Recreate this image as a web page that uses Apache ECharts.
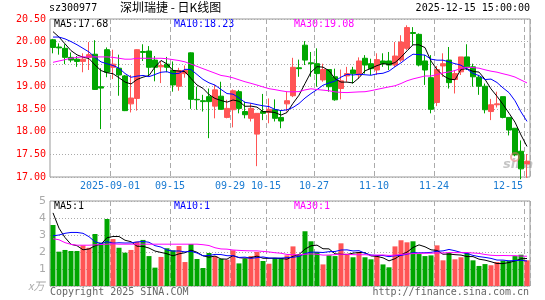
<!DOCTYPE html>
<html>
<head>
<meta charset="utf-8">
<script src="https://cdn.jsdelivr.net/npm/echarts@6/dist/echarts.min.js"></script>
<style>
  html, body { margin: 0; padding: 0; background: #fff; }
</style>
</head>
<body>
<div id="main" style="width: 545px; height: 300px;"></div>
<script>
// trading days shown (2025-08-18 .. 2025-12-15)
const dates = [
  '2025-08-18','2025-08-19','2025-08-20','2025-08-21','2025-08-22','2025-08-25','2025-08-26','2025-08-27','2025-08-28','2025-08-29',
  '2025-09-01','2025-09-02','2025-09-03','2025-09-04','2025-09-05','2025-09-08','2025-09-09','2025-09-10','2025-09-11','2025-09-12',
  '2025-09-15','2025-09-16','2025-09-17','2025-09-18','2025-09-19','2025-09-22','2025-09-23','2025-09-24','2025-09-25','2025-09-26',
  '2025-09-29','2025-09-30','2025-10-09','2025-10-10','2025-10-13','2025-10-14','2025-10-15','2025-10-16','2025-10-17','2025-10-20',
  '2025-10-21','2025-10-22','2025-10-23','2025-10-24','2025-10-27','2025-10-28','2025-10-29','2025-10-30','2025-10-31','2025-11-03',
  '2025-11-04','2025-11-05','2025-11-06','2025-11-07','2025-11-10','2025-11-11','2025-11-12','2025-11-13','2025-11-14','2025-11-17',
  '2025-11-18','2025-11-19','2025-11-20','2025-11-21','2025-11-24','2025-11-25','2025-11-26','2025-11-27','2025-11-28','2025-12-01',
  '2025-12-02','2025-12-03','2025-12-04','2025-12-05','2025-12-08','2025-12-09','2025-12-10','2025-12-11','2025-12-12','2025-12-15'
]
const tickDates = ['2025-09-01', '2025-09-15', '2025-09-29', '2025-10-15', '2025-10-27', '2025-11-10', '2025-11-24', '2025-12-15']

const opens = [
  20.04, 19.88, 19.85, 19.65, 19.61, 19.56, 19.65, 19.72, 19.00, 19.82,
  19.43, 19.41, 19.24, 18.62, 18.74, 19.78, 19.79, 19.59, 19.44, 19.50,
  19.36, 19.01, 19.29, 19.75, 18.72, 18.69, 18.78, 18.57, 18.79, 18.32,
  18.49, 18.89, 18.45, 18.30, 17.95, 18.45, 18.43, 18.49, 18.32, 18.62,
  18.80, 19.42, 19.92, 19.53, 19.51, 19.15, 19.38, 19.22, 18.96, 19.24,
  19.37, 19.26, 19.63, 19.51, 19.37, 19.57, 19.57, 19.48, 19.59, 19.85,
  20.20, 20.16, 19.57, 19.20, 18.65, 19.46, 19.59, 19.16, 19.33, 19.66,
  19.44, 19.21, 19.01, 18.45, 18.60, 18.78, 18.32, 18.08, 17.57, 17.29
]
const closes = [
  19.87, 19.86, 19.65, 19.59, 19.56, 19.61, 19.71, 18.94, 18.97, 19.32,
  19.50, 19.26, 18.47, 18.75, 19.82, 19.76, 19.43, 19.43, 19.47, 19.43,
  19.04, 19.36, 19.36, 18.72, 18.71, 18.67, 18.67, 18.93, 18.50, 18.52,
  18.91, 18.52, 18.38, 18.52, 18.41, 18.41, 18.50, 18.30, 18.24, 18.69,
  19.43, 19.40, 19.59, 19.51, 19.29, 19.38, 19.00, 18.71, 19.13, 19.29,
  19.29, 19.57, 19.48, 19.40, 19.60, 19.51, 19.48, 19.68, 19.99, 20.31,
  20.18, 19.48, 19.37, 18.50, 19.38, 19.51, 19.09, 19.29, 19.66, 19.44,
  19.22, 19.01, 18.49, 18.60, 18.62, 18.32, 18.04, 17.49, 17.18, 17.35
]
const lows = [
  19.74, 19.71, 19.50, 19.54, 19.44, 19.32, 19.37, 18.93, 18.06, 19.21,
  19.17, 18.80, 18.46, 18.43, 18.47, 19.57, 19.24, 19.12, 19.08, 19.32,
  18.89, 18.91, 19.20, 18.51, 18.49, 18.45, 17.86, 18.30, 18.49, 18.30,
  18.10, 18.41, 18.30, 18.23, 17.24, 18.26, 18.19, 18.23, 18.08, 18.45,
  18.77, 19.22, 19.48, 19.22, 19.00, 19.11, 18.89, 18.69, 18.72, 19.11,
  19.07, 19.18, 19.29, 19.26, 19.26, 19.44, 19.37, 19.44, 19.55, 19.81,
  19.92, 19.45, 19.04, 18.41, 18.57, 19.22, 18.96, 18.85, 19.26, 19.37,
  19.00, 18.82, 18.41, 18.26, 18.54, 18.30, 17.92, 17.46, 16.95, 16.98
]
const highs = [
  20.06, 19.96, 19.94, 19.76, 19.68, 19.74, 19.99, 20.03, 19.41, 19.87,
  19.82, 19.71, 19.26, 19.26, 19.83, 19.94, 19.90, 19.68, 19.57, 19.66,
  19.56, 19.42, 19.47, 19.76, 19.00, 18.82, 18.96, 19.04, 19.11, 18.71,
  18.94, 18.93, 18.67, 18.63, 18.41, 18.84, 18.74, 18.72, 18.47, 18.89,
  19.64, 19.60, 20.01, 19.77, 19.85, 19.51, 19.38, 19.40, 19.38, 19.44,
  19.44, 19.65, 19.70, 19.62, 19.74, 19.74, 19.77, 19.99, 20.14, 20.36,
  20.32, 20.18, 19.70, 19.70, 19.46, 19.74, 19.88, 19.37, 19.66, 19.94,
  19.51, 19.26, 19.07, 18.73, 18.89, 18.78, 18.32, 18.08, 17.81, 17.51
]
// volume, 万手
const volumes = [
  3.59, 2.02, 2.12, 2.06, 2.06, 2.39, 2.25, 3.06, 2.55, 3.94,
  2.76, 2.25, 1.96, 2.12, 2.61, 2.71, 1.76, 1.08, 1.71, 2.22,
  2.10, 2.35, 1.41, 2.47, 1.59, 1.06, 1.94, 1.75, 1.60, 1.55,
  2.10, 1.33, 1.60, 1.76, 2.00, 1.47, 1.31, 1.65, 1.65, 1.80,
  2.33, 1.84, 3.22, 2.63, 2.00, 1.27, 1.80, 1.76, 2.51, 1.90,
  1.69, 2.00, 1.69, 1.57, 1.76, 1.27, 1.10, 2.33, 2.69, 2.57,
  2.63, 1.88, 1.76, 1.80, 2.39, 1.51, 1.94, 1.57, 1.69, 1.94,
  1.51, 1.18, 1.29, 1.22, 1.41, 1.49, 1.49, 1.76, 1.84, 1.51
]
// moving-average values before enough bars exist in the window
const ma5Head = [20.22, 20.10, 19.95, 19.80]
const ma10Head = [20.10, 20.10, 20.06, 20.00, 19.93, 19.85, 19.77, 19.65, 19.55]
const ma30Head = [
  19.54, 19.57, 19.60, 19.63, 19.65, 19.66, 19.66, 19.66, 19.66, 19.66,
  19.65, 19.63, 19.61, 19.61, 19.63, 19.63, 19.63, 19.63, 19.63, 19.62,
  19.60, 19.58, 19.55, 19.50, 19.45, 19.40, 19.35, 19.30, 19.25
]
const volMa5Head = [4.3, 3.4, 2.85, 2.45]
const volMa10Head = [2.95, 3.0, 3.1, 3.15, 3.15, 3.1, 2.9, 2.6, 2.5]
const volMa30Head = [
  2.78, 2.72, 2.55, 2.45, 2.40, 2.40, 2.40, 2.42, 2.44, 2.46,
  2.48, 2.46, 2.46, 2.46, 2.46, 2.46, 2.46, 2.46, 2.46, 2.46,
  2.46, 2.46, 2.46, 2.46, 2.46, 2.43, 2.38, 2.25, 2.18
]

const UP = '#ff5555'
const DOWN = '#00a600'
const MONO = '"DejaVu Sans Mono", monospace'

function movingAvg(src, n, head) {
  return src.map((v, i) => {
    if (i < n - 1) return head[i]
    let s = 0
    for (let k = i - n + 1; k <= i; k++) s += src[k]
    return +(s / n).toFixed(3)
  })
}

const tickIdx = tickDates.map(d => dates.indexOf(d))
const isTick = (i) => tickIdx.indexOf(i) >= 0
const lastIdx = dates.length - 1

const candles = dates.map((d, i) => [opens[i], closes[i], lows[i], highs[i]])
const volBars = volumes.map((v, i) => ({
  value: v,
  itemStyle: { color: closes[i] > opens[i] ? UP : DOWN }
}))

const chart = echarts.init(document.getElementById('main'))

function maLine(name, data, color, axis) {
  return {
    name: name,
    type: 'line',
    xAxisIndex: axis,
    yAxisIndex: axis,
    data: data,
    symbol: 'none',
    smooth: false,
    silent: true,
    z: 5,
    lineStyle: { width: 1, color: color }
  }
}

function txt(left, top, text, color, font) {
  return { type: 'text', left: left, top: top, silent: true, style: { text: text, fill: color, font: font } }
}

const option = {
  animation: false,
  backgroundColor: '#fff',
  grid: [
    { left: 50, top: 19, width: 480, height: 158, show: true, borderColor: '#999', borderWidth: 1 },
    { left: 50, top: 201, width: 480, height: 85, show: true, borderColor: '#999', borderWidth: 1 }
  ],
  xAxis: [
    {
      type: 'category', gridIndex: 0, data: dates, boundaryGap: true,
      axisLine: { show: false }, axisTick: { show: false },
      axisLabel: {
        interval: (i) => isTick(i),
        formatter: (v, i) => {
          if (i === tickIdx[0]) return v
          if (i === lastIdx) return '{e|' + v.slice(5) + '}'
          return v.slice(5)
        },
        rich: { e: { color: '#1a7bd2', fontFamily: MONO, fontSize: 10, padding: [0, 32, 0, 0] } },
        color: '#1a7bd2', fontFamily: MONO, fontSize: 10, margin: 4,
        padding: [0, 6, 0, 0]
      },
      splitLine: { show: true, interval: (i) => isTick(i), lineStyle: { color: '#aaa', type: [5, 3], width: 1 } }
    },
    {
      type: 'category', gridIndex: 1, data: dates, boundaryGap: true,
      axisLine: { show: false }, axisTick: { show: false }, axisLabel: { show: false },
      splitLine: { show: true, interval: (i) => isTick(i), lineStyle: { color: '#aaa', type: [5, 3], width: 1 } }
    }
  ],
  yAxis: [
    {
      type: 'value', gridIndex: 0, min: 17, max: 20.5, interval: 0.5,
      axisLine: { show: false }, axisTick: { show: false },
      axisLabel: { color: '#ff0000', fontFamily: MONO, fontSize: 10, margin: 4, formatter: (v) => v.toFixed(2) },
      splitLine: { lineStyle: { color: '#aaa', type: [1, 2] } }
    },
    {
      type: 'value', gridIndex: 1, min: 0, max: 5, interval: 1,
      axisLine: { show: false }, axisTick: { show: false },
      axisLabel: { color: '#aaa', fontFamily: 'DejaVu Sans', fontSize: 11, margin: 4, formatter: (v) => (v === 0 ? '' : v) },
      splitLine: { lineStyle: { color: '#aaa', type: [1, 2] } }
    }
  ],
  series: [
    {
      name: 'K', type: 'candlestick', xAxisIndex: 0, yAxisIndex: 0,
      data: candles, barWidth: 5,
      itemStyle: { color: UP, color0: DOWN, borderColor: UP, borderColor0: DOWN, borderWidth: 1 }
    },
    maLine('MA5', movingAvg(closes, 5, ma5Head), '#000000', 0),
    maLine('MA10', movingAvg(closes, 10, ma10Head), '#0000ff', 0),
    maLine('MA30', movingAvg(closes, 30, ma30Head), '#ff00ff', 0),
    { name: 'VOL', type: 'bar', xAxisIndex: 1, yAxisIndex: 1, data: volBars, barWidth: 5 },
    maLine('VMA5', movingAvg(volumes, 5, volMa5Head), '#000000', 1),
    maLine('VMA10', movingAvg(volumes, 10, volMa10Head), '#0000ff', 1),
    maLine('VMA30', movingAvg(volumes, 30, volMa30Head), '#ff00ff', 1)
  ],
  graphic: [
    txt(49, 3, 'sz300977', '#000', '10px ' + MONO),
    txt(120, 1, '深圳瑞捷 - 日K线图', '#000', '12px "Noto Sans CJK SC"'),
    { type: 'text', right: 15, top: 3, silent: true, style: { text: '2025-12-15 15:00:00', fill: '#000', font: '10px ' + MONO } },
    txt(54, 19, 'MA5:17.68', '#000', '10px ' + MONO),
    txt(174, 19, 'MA10:18.23', '#0000ff', '10px ' + MONO),
    txt(294, 19, 'MA30:19.08', '#ff00ff', '10px ' + MONO),
    txt(54, 201, 'MA5:1', '#000', '10px ' + MONO),
    txt(174, 201, 'MA10:1', '#0000ff', '10px ' + MONO),
    txt(294, 201, 'MA30:1', '#ff00ff', '10px ' + MONO),
    txt(28, 280, 'x万', '#aaa', 'italic 11px "Noto Sans CJK SC"'),
    txt(50, 287, 'Copyright 2025 SINA.COM', '#666', '10px ' + MONO),
    { type: 'text', right: 16, top: 287, silent: true, style: { text: 'http://finance.sina.com.cn', fill: '#666', font: '10px ' + MONO } },
    { type: 'circle', shape: { cx: 515, cy: 157, r: 4 }, silent: true, z: 10, style: { fill: 'none', stroke: 'rgba(230,110,110,0.55)', lineWidth: 2 } },
    txt(503, 158, 'sina', 'rgba(140,140,140,0.5)', 'italic bold 13px "DejaVu Sans"')
  ]
}

chart.setOption(option)
</script>
</body>
</html>
